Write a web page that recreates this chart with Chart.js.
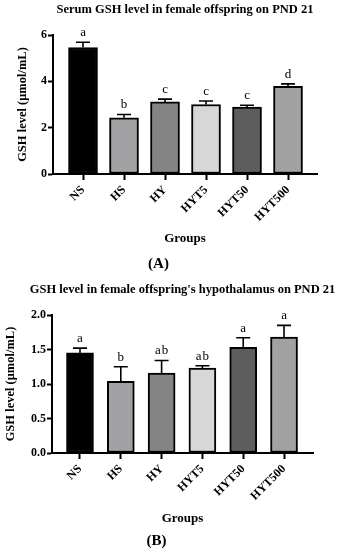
<!DOCTYPE html>
<html>
<head>
<meta charset="utf-8">
<script src="https://cdn.jsdelivr.net/npm/chart.js@4/dist/chart.umd.min.js"></script>
<style>
  html, body { margin: 0; padding: 0; background: #fff; }
  body { width: 338px; height: 550px; position: relative; overflow: hidden; }
  .wrap { position: absolute; left: 0; width: 338px; }
  #wa { top: 0; height: 275px; }
  #wb { top: 275px; height: 275px; }
</style>
</head>
<body>
<div class="wrap" id="wa"><canvas id="ca"></canvas></div>
<div class="wrap" id="wb"><canvas id="cb"></canvas></div>
<script>
// ---- data ----
const categories = ['NS', 'HS', 'HY', 'HYT5', 'HYT50', 'HYT500'];
const serumMeans = [5.46, 2.43, 3.11, 3.00, 2.89, 3.78];
const serumErrors = [0.23, 0.14, 0.12, 0.15, 0.08, 0.11];
const serumLetters = ['a', 'b', 'c', 'c', 'c', 'd'];
const hypoMeans = [1.45, 1.04, 1.16, 1.23, 1.53, 1.68];
const hypoErrors = [0.07, 0.21, 0.18, 0.035, 0.14, 0.17];
const hypoLetters = ['a', 'b', 'ab', 'ab', 'a', 'a'];
const barColors = ['#000000', '#a2a2a4', '#848484', '#d6d7d6', '#5c5d5c', '#a2a2a4'];
const serumTicks = [0, 2, 4, 6];
const hypoTicks = [0, 0.5, 1.0, 1.5, 2.0];

const SERIF = "'Liberation Serif', 'DejaVu Serif', serif";

const errorBarPlugin = {
  id: 'errorBars',
  afterDatasetsDraw(chart, args, opts) {
    const ctx = chart.ctx;
    const xs = chart.scales.x, ys = chart.scales.y;
    const means = opts.means, errs = opts.errors, letters = opts.letters;
    ctx.save();
    ctx.strokeStyle = '#000';
    ctx.lineWidth = 1.6;
    ctx.fillStyle = '#000';
    ctx.font = "13px " + SERIF;
    ctx.textAlign = 'center';
    ctx.textBaseline = 'bottom';
    means.forEach((m, i) => {
      const x = xs.getPixelForValue(i);
      const y0 = ys.getPixelForValue(m);
      const y1 = ys.getPixelForValue(m + errs[i]);
      ctx.beginPath();
      ctx.moveTo(x, y0);
      ctx.lineTo(x, y1);
      ctx.moveTo(x - 7, y1);
      ctx.lineTo(x + 7, y1);
      ctx.stroke();
      ctx.fillText(letters[i].split('').join('\u200A'), x, y1 - 3);
    });
    ctx.restore();
  }
};

// Chart title centred over the plot area, drawn at its natural width
const plotTitlePlugin = {
  id: 'plotTitle',
  afterDraw(chart, args, opts) {
    const ctx = chart.ctx;
    const a = chart.chartArea;
    ctx.save();
    ctx.fillStyle = '#000';
    ctx.font = "bold 12.5px " + SERIF;
    ctx.textAlign = 'center';
    ctx.textBaseline = 'middle';
    ctx.fillText(opts.text, (a.left + a.right) / 2, opts.y);
    ctx.restore();
  }
};

function makeChart(id, cfg) {
  const tickFont = { family: SERIF, size: 12, weight: 'bold' };
  return new Chart(document.getElementById(id), {
    type: 'bar',
    data: {
      datasets: [{
        data: cfg.means.map((v, i) => ({ x: i, y: v })),
        backgroundColor: barColors,
        borderColor: '#000',
        borderWidth: 2,
        borderSkipped: false,
        barThickness: cfg.barThickness
      }]
    },
    plugins: [errorBarPlugin, plotTitlePlugin],
    options: {
      responsive: true,
      maintainAspectRatio: false,
      animation: false,
      layout: { padding: { left: 0, right: cfg.padRight, top: cfg.padTop, bottom: 0 } },
      plugins: {
        legend: { display: false },
        tooltip: { enabled: false },
        title: { display: false },
        plotTitle: { text: cfg.title, y: cfg.titleY },
        subtitle: {
          display: true,
          text: cfg.label,
          position: 'bottom',
          color: '#000',
          font: { family: SERIF, size: 15, weight: 'bold' },
          padding: { top: cfg.subTop, bottom: cfg.subBottom }
        },
        errorBars: { means: cfg.means, errors: cfg.errors, letters: cfg.letters }
      },
      scales: {
        x: {
          type: 'linear',
          offset: false,
          min: cfg.xMin,
          max: cfg.xMax,
          afterBuildTicks: (s) => { s.ticks = categories.map((c, i) => ({ value: i })); },
          afterFit: (s) => { s.height = cfg.xHeight; },
          ticks: {
            autoSkip: false,
            minRotation: 45,
            maxRotation: 45,
            color: '#000',
            font: tickFont,
            padding: 3,
            callback: (v) => categories[v]
          },
          grid: { display: true, offset: false, drawOnChartArea: false, drawTicks: true, tickLength: 6, tickColor: '#000', tickWidth: 2 },
          border: { display: true, color: '#000', width: 2 },
          title: {
            display: true,
            text: 'Groups',
            color: '#000',
            font: { family: SERIF, size: 13, weight: 'bold' },
            padding: { top: 0, bottom: cfg.groupsBottom }
          }
        },
        y: {
          min: 0,
          max: cfg.yMax,
          afterBuildTicks: (s) => { s.ticks = cfg.yTicks.map(v => ({ value: v })); },
          afterFit: (s) => { s.width = cfg.yWidth; },
          ticks: {
            color: '#000',
            font: tickFont,
            padding: 1,
            callback: (v) => cfg.yDecimals ? v.toFixed(1) : String(v)
          },
          grid: { display: true, drawOnChartArea: false, drawTicks: true, tickLength: 5, tickColor: '#000', tickWidth: 2 },
          border: { display: true, color: '#000', width: 2 },
          title: {
            display: true,
            text: 'GSH level (μmol/mL)',
            color: '#000',
            font: { family: SERIF, size: 12.5, weight: 'bold' },
            padding: { top: cfg.yTitleLeft, bottom: 0 }
          }
        }
      }
    }
  });
}

makeChart('ca', {
  title: 'Serum GSH level in female offspring on PND 21',
  label: '(A)',
  means: serumMeans, errors: serumErrors, letters: serumLetters,
  yMax: 6, yTicks: serumTicks, yDecimals: false,
  xMin: -0.732, xMax: 5.707,
  barThickness: 29, padRight: 21, padTop: 35, titleY: 9.5, yWidth: 53, xHeight: 77,
  subTop: 4, subBottom: 2, groupsBottom: 5, yTitleLeft: 15
});

makeChart('cb', {
  title: "GSH level in female offspring's hypothalamus on PND 21",
  label: '(B)',
  means: hypoMeans, errors: hypoErrors, letters: hypoLetters,
  yMax: 2, yTicks: hypoTicks, yDecimals: true,
  xMin: -0.686, xMax: 5.71,
  barThickness: 27, padRight: 25, padTop: 40, titleY: 15, yWidth: 52, xHeight: 73,
  subTop: 6, subBottom: 0, groupsBottom: 0, yTitleLeft: 3
});
</script>
</body>
</html>
